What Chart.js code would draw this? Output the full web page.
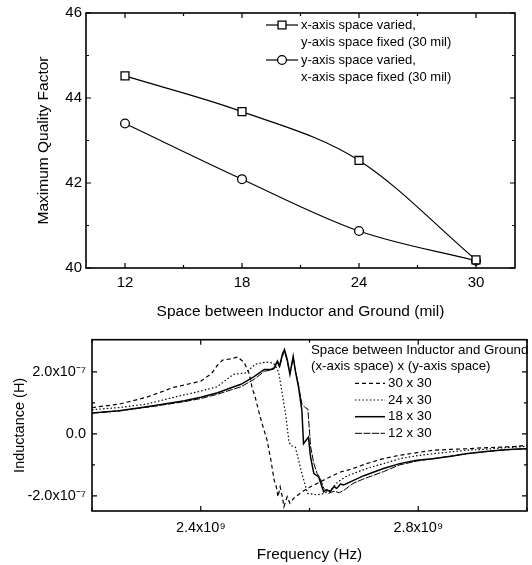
<!DOCTYPE html>
<html><head><meta charset="utf-8">
<script src="https://cdn.jsdelivr.net/npm/chart.js@4.4.0/dist/chart.umd.min.js"></script>
<style>
html,body{margin:0;padding:0;background:#fff;}
.box{position:absolute;left:0;width:532px;}
</style></head><body>
<div class="box" style="top:0;height:325px"><canvas id="c1" width="532" height="325"></canvas></div>
<div class="box" style="top:325px;height:240px"><canvas id="c2" width="532" height="240"></canvas></div>
<script>
// ---------- top chart data ----------
const spacing = [12, 18, 24, 30];
const spacingMinor = [15, 21, 27];
const qXVaried = [44.52, 43.68, 42.53, 40.19];
const qYVaried = [43.40, 42.09, 40.87, 40.17];
const qTicks = [40, 42, 44, 46];
const qMinor = [41, 43, 45];
const topLegend1 = ['x-axis space varied,', 'y-axis space fixed (30 mil)'];
const topLegend2 = ['y-axis space varied,', 'x-axis space fixed (30 mil)'];

// ---------- bottom chart data (frequency in GHz, inductance in 1e-7 H) ----------
const freq30 = [2.20,2.25,2.30,2.35,2.37,2.40,2.42,2.43,2.44,2.455,2.468,2.48,2.489,2.495,2.50,2.507,2.515,2.522,2.529,2.535,2.539,2.542,2.546,2.550,2.553,2.559,2.564,2.571,2.583,2.596,2.614,2.632,2.657,2.675,2.705,2.736,2.766,2.80,2.827,2.86,2.888,2.92,2.949,2.975,3.0];
const ind30 = [0.85,0.96,1.18,1.50,1.58,1.70,1.95,2.20,2.38,2.42,2.48,2.30,1.95,1.45,1.20,0.70,0.20,-0.20,-0.85,-1.49,-1.71,-2.03,-1.71,-2.03,-2.35,-2.03,-2.24,-2.08,-1.92,-1.76,-1.60,-1.44,-1.23,-1.15,-0.96,-0.80,-0.69,-0.60,-0.53,-0.50,-0.48,-0.45,-0.43,-0.41,-0.37];
const freq24 = [2.20,2.25,2.30,2.35,2.40,2.43,2.46,2.483,2.50,2.52,2.534,2.541,2.544,2.550,2.556,2.562,2.565,2.574,2.580,2.586,2.593,2.596,2.614,2.626,2.64,2.652,2.67,2.705,2.736,2.766,2.80,2.827,2.86,2.888,2.92,2.949,2.975,3.0];
const ind24 = [0.78,0.85,0.96,1.18,1.38,1.52,1.92,1.97,2.25,2.32,2.28,2.08,1.92,1.28,0.64,-0.21,-0.37,-0.43,-0.85,-1.28,-1.71,-1.92,-1.97,-1.93,-1.80,-1.55,-1.35,-1.12,-0.96,-0.80,-0.70,-0.64,-0.58,-0.53,-0.50,-0.46,-0.43,-0.40];
const freq18 = [2.20,2.25,2.31,2.37,2.40,2.431,2.456,2.474,2.498,2.517,2.529,2.535,2.541,2.545,2.550,2.554,2.559,2.564,2.570,2.574,2.580,2.586,2.589,2.594,2.598,2.602,2.608,2.617,2.626,2.632,2.638,2.645,2.650,2.657,2.663,2.675,2.70,2.736,2.766,2.797,2.827,2.86,2.888,2.92,2.949,2.975,3.0];
const ind18 = [0.67,0.75,0.90,1.07,1.18,1.33,1.49,1.60,1.85,2.08,2.08,2.13,2.35,2.19,2.56,2.72,2.40,1.92,2.50,2.03,1.49,0.75,-0.32,-0.20,-0.11,-0.75,-1.28,-1.39,-1.87,-1.80,-1.87,-1.70,-1.76,-1.62,-1.65,-1.55,-1.35,-1.12,-0.96,-0.85,-0.80,-0.72,-0.64,-0.58,-0.53,-0.50,-0.48];
const freq12 = [2.20,2.25,2.31,2.37,2.40,2.431,2.456,2.474,2.498,2.517,2.529,2.535,2.541,2.545,2.550,2.554,2.559,2.564,2.570,2.574,2.580,2.586,2.592,2.597,2.602,2.608,2.614,2.62,2.626,2.635,2.645,2.655,2.665,2.68,2.70,2.736,2.766,2.797,2.827,2.86,2.888,2.92,2.949,2.975,3.0];
const ind12 = [0.67,0.74,0.88,1.04,1.14,1.28,1.42,1.52,1.76,2.02,2.06,2.10,2.30,2.15,2.50,2.65,2.35,1.95,2.45,2.05,1.55,0.96,0.85,0.80,-0.40,-0.96,-1.28,-1.45,-1.75,-1.92,-1.85,-1.90,-1.80,-1.60,-1.45,-1.22,-1.00,-0.88,-0.80,-0.72,-0.64,-0.58,-0.53,-0.50,-0.48];
const seriesNames = ['30 x 30', '24 x 30', '18 x 30', '12 x 30'];
const bottomLegendTitle = ['Space between Inductor and Ground', '(x-axis space) x (y-axis space)'];
const freqTicks = [2.4e9, 2.8e9];
const freqTickLabels = ['2.4x10\u2079', '2.8x10\u2079'];
const freqMinor = [2.2e9, 2.6e9, 3.0e9];
const indTicks = [-2e-7, 0, 2e-7];
const indTickLabels = ['-2.0x10\u207B\u2077', '0.0', '2.0x10\u207B\u2077'];
const indMinor = [-1e-7, 1e-7];

// ---------- helpers ----------
const FONT = "'Liberation Sans', Arial, Helvetica, sans-serif";
Chart.defaults.font.family = FONT;
Chart.defaults.color = '#000';

const frameTicks = {
  id: 'frameTicks',
  afterDatasetsDraw(chart, args, o) {
    const {ctx, chartArea: a} = chart;
    const xs = chart.scales.x, ys = chart.scales.y;
    ctx.save();
    ctx.strokeStyle = '#000';
    ctx.lineWidth = 1.2;
    ctx.beginPath();
    const vt = (vals, len) => vals.forEach(v => {
      const p = xs.getPixelForValue(v);
      ctx.moveTo(p, a.bottom); ctx.lineTo(p, a.bottom - len);
      ctx.moveTo(p, a.top); ctx.lineTo(p, a.top + len);
    });
    const ht = (vals, len) => vals.forEach(v => {
      const p = ys.getPixelForValue(v);
      ctx.moveTo(a.left, p); ctx.lineTo(a.left + len, p);
      ctx.moveTo(a.right, p); ctx.lineTo(a.right - len, p);
    });
    vt(o.xMajor, 5); vt(o.xMinor, 3); ht(o.yMajor, 5); ht(o.yMinor, 3);
    ctx.stroke();
    ctx.lineWidth = 1.6;
    ctx.strokeRect(a.left, a.top, a.right - a.left, a.bottom - a.top);
    ctx.restore();
  }
};

const insideLegend = {
  id: 'insideLegend',
  afterDraw(chart, args, o) {
    if (!o.items) return;
    const ctx = chart.ctx;
    ctx.save();
    ctx.font = (o.size || 13) + 'px ' + FONT;
    ctx.fillStyle = '#000';
    ctx.textBaseline = 'middle';
    ctx.textAlign = 'left';
    (o.title || []).forEach((t, i) => ctx.fillText(t, o.titleX, o.titleY + i * o.lineH));
    o.items.forEach(it => {
      const ds = chart.data.datasets[it.dataset];
      ctx.strokeStyle = '#000';
      ctx.lineWidth = ds.borderWidth;
      ctx.setLineDash(ds.borderDash || []);
      ctx.beginPath(); ctx.moveTo(it.x1, it.y); ctx.lineTo(it.x2, it.y); ctx.stroke();
      ctx.setLineDash([]);
      const cx = (it.x1 + it.x2) / 2;
      if (ds.pointRadius) {
        ctx.lineWidth = ds.pointBorderWidth;
        ctx.fillStyle = '#fff';
        ctx.beginPath();
        if (ds.pointStyle === 'rect') {
          const s = Math.SQRT1_2 * ds.pointRadius;
          ctx.rect(cx - s, it.y - s, 2 * s, 2 * s);
        } else {
          ctx.arc(cx, it.y, ds.pointRadius, 0, Math.PI * 2);
        }
        ctx.fill(); ctx.stroke();
        ctx.fillStyle = '#000';
      }
      const lines = Array.isArray(ds.label) ? ds.label : [ds.label];
      lines.forEach((t, i) => ctx.fillText(t, it.tx, it.y + i * o.lineH));
    });
    ctx.restore();
  }
};

// ---------- top chart ----------
new Chart(document.getElementById('c1'), {
  type: 'line',
  data: {
    datasets: [
      { label: topLegend1, data: spacing.map((s, i) => ({x: s, y: qXVaried[i]})),
        borderColor: '#000', borderWidth: 1.2, pointStyle: 'rect', pointRadius: 5.6,
        pointBackgroundColor: '#fff', pointBorderColor: '#000', pointBorderWidth: 1.3,
        cubicInterpolationMode: 'monotone' },
      { label: topLegend2, data: spacing.map((s, i) => ({x: s, y: qYVaried[i]})),
        borderColor: '#000', borderWidth: 1.2, pointStyle: 'circle', pointRadius: 4.4,
        pointBackgroundColor: '#fff', pointBorderColor: '#000', pointBorderWidth: 1.3,
        cubicInterpolationMode: 'monotone' }
    ]
  },
  options: {
    responsive: false, animation: false,
    layout: { padding: { left: 0, right: 17, top: 10, bottom: 0 } },
    plugins: {
      legend: { display: false }, tooltip: { enabled: false },
      frameTicks: { xMajor: spacing, xMinor: spacingMinor, yMajor: qTicks, yMinor: qMinor },
      insideLegend: { size: 13, lineH: 17.5, items: [
        { dataset: 0, x1: 266, x2: 298, y: 25, tx: 301 },
        { dataset: 1, x1: 266, x2: 298, y: 60, tx: 301 }
      ] }
    },
    scales: {
      x: {
        type: 'linear', min: 10, max: 32,
        grid: { display: false, drawTicks: false }, border: { display: false },
        afterBuildTicks: s => { s.ticks = spacing.map(v => ({value: v})); },
        afterFit: s => { s.height = 57; },
        ticks: { padding: 6, font: { size: 15 }, color: '#000', maxRotation: 0, autoSkip: false, callback: v => String(v) },
        title: { display: true, text: 'Space between Inductor and Ground (mil)', font: { size: 15.5 }, color: '#000', padding: { top: 0, bottom: 4 } }
      },
      y: {
        type: 'linear', min: 40, max: 46,
        grid: { display: false, drawTicks: false }, border: { display: false },
        afterBuildTicks: s => { s.ticks = qTicks.map(v => ({value: v})); },
        afterFit: s => { s.width = 86; },
        ticks: { padding: 4, font: { size: 15 }, color: '#000', callback: v => String(v) },
        title: { display: true, text: 'Maximum Quality Factor', font: { size: 15.5 }, color: '#000', padding: { top: 34, bottom: 0 } }
      }
    }
  },
  plugins: [frameTicks, insideLegend]
});

// ---------- bottom chart ----------
const mk = (f, l) => f.map((v, i) => ({x: v * 1e9, y: l[i] * 1e-7}));
new Chart(document.getElementById('c2'), {
  type: 'line',
  data: {
    datasets: [
      { label: seriesNames[0], data: mk(freq30, ind30), borderColor: '#000', borderWidth: 1.2, borderDash: [4, 3], pointRadius: 0, tension: 0 },
      { label: seriesNames[1], data: mk(freq24, ind24), borderColor: '#000', borderWidth: 1.2, borderDash: [1.5, 2.2], pointRadius: 0, tension: 0 },
      { label: seriesNames[2], data: mk(freq18, ind18), borderColor: '#000', borderWidth: 1.5, borderDash: [], pointRadius: 0, tension: 0 },
      { label: seriesNames[3], data: mk(freq12, ind12), borderColor: '#000', borderWidth: 1.0, borderDash: [7, 1.5], pointRadius: 0, tension: 0 }
    ]
  },
  options: {
    responsive: false, animation: false,
    layout: { padding: { left: 0, right: 5, top: 13, bottom: 0 } },
    plugins: {
      legend: { display: false }, tooltip: { enabled: false },
      frameTicks: { xMajor: freqTicks, xMinor: freqMinor, yMajor: indTicks, yMinor: indMinor },
      insideLegend: { size: 13.3, title: bottomLegendTitle, titleX: 311, titleY: 25, lineH: 16.7, items: [
        { dataset: 0, x1: 355, x2: 385, y: 58.3, tx: 388 },
        { dataset: 1, x1: 355, x2: 385, y: 75, tx: 388 },
        { dataset: 2, x1: 355, x2: 385, y: 91.7, tx: 388 },
        { dataset: 3, x1: 355, x2: 385, y: 108.3, tx: 388 }
      ] }
    },
    scales: {
      x: {
        type: 'linear', min: 2.2e9, max: 3.0e9,
        grid: { display: false, drawTicks: false }, border: { display: false },
        afterBuildTicks: s => { s.ticks = freqTicks.map(v => ({value: v})); },
        afterFit: s => { s.height = 54; },
        ticks: { padding: 8, font: { size: 14.5 }, color: '#000', maxRotation: 0, autoSkip: false,
                 callback: v => freqTickLabels[freqTicks.indexOf(v)] },
        title: { display: true, text: 'Frequency (Hz)', font: { size: 15.3 }, color: '#000', padding: { top: 0, bottom: 1 } }
      },
      y: {
        type: 'linear', min: -2.49e-7, max: 3.04e-7,
        grid: { display: false, drawTicks: false }, border: { display: false },
        afterBuildTicks: s => { s.ticks = indTicks.map(v => ({value: v})); },
        afterFit: s => { s.width = 92; },
        ticks: { padding: 6, font: { size: 14.5 }, color: '#000',
                 callback: v => indTickLabels[indTicks.findIndex(t => Math.abs(t - v) < 1e-12)] },
        title: { display: true, text: 'Inductance (H)', font: { size: 14.5 }, color: '#000', padding: { top: 11, bottom: 0 } }
      }
    }
  },
  plugins: [frameTicks, insideLegend]
});
</script>
</body></html>
